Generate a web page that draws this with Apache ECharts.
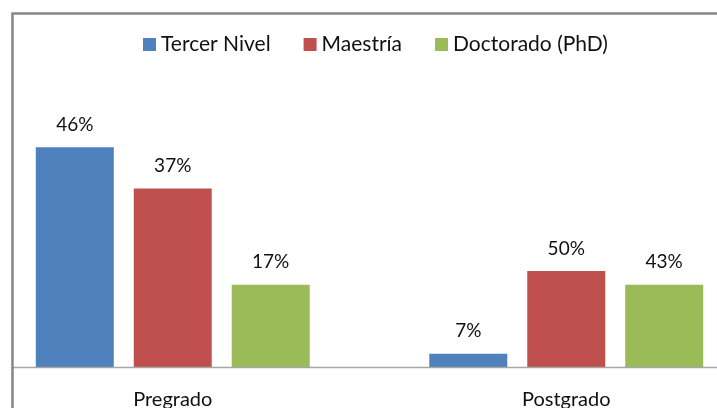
<!DOCTYPE html>
<html>
<head>
<meta charset="utf-8">
<script src="https://cdn.jsdelivr.net/npm/echarts@6/dist/echarts.min.js"></script>
<style>
  html, body { margin: 0; padding: 0; background: #fff; }
  #chart { width: 717px; height: 408px; }
</style>
</head>
<body>
<div id="chart"></div>
<script>
// categorias del eje X
var categorias = ['Pregrado', 'Postgrado'];
// nombres de las series
var series_nombres = ['Tercer Nivel', 'Maestría', 'Doctorado (PhD)'];
// alturas de las barras (conteos)
var tercer_nivel = [16, 1];
var maestria = [13, 7];
var doctorado = [6, 6];
// etiquetas que se muestran encima de cada barra
var tercer_nivel_pct = ['46%', '7%'];
var maestria_pct = ['37%', '50%'];
var doctorado_pct = ['17%', '43%'];

var colores = ['#4F81BD', '#C0504D', '#9BBB59'];
var fuente = 'Lato, "Open Sans", sans-serif';

function serie(nombre, datos, etiquetas, color) {
    return {
        name: nombre,
        type: 'bar',
        data: datos,
        barWidth: 78,
        barGap: '25.6%',
        itemStyle: { color: color },
        label: {
            show: true,
            position: 'top',
            distance: 13,
            fontFamily: fuente,
            fontSize: 19,
            color: '#111',
            formatter: function(p) {
                return etiquetas[p.dataIndex];
            }
        }
    };
}

var myChart = echarts.init(document.getElementById('chart'));
var option = {
    animation: false,
    backgroundColor: '#fff',
    legend: {
        top: 29,
        left: 138,
        itemWidth: 13,
        itemHeight: 13,
        itemGap: 33,
        icon: 'rect',
        textStyle: { fontFamily: fuente, fontSize: 21, color: '#111' },
        data: series_nombres
    },
    grid: {
        outerBoundsMode: 'none',
        containLabel: false,
        left: -24,
        width: 787,
        top: 119.6,
        bottom: 40.5
    },
    xAxis: {
        type: 'category',
        data: categorias,
        axisLine: { show: false },
        axisTick: { show: false },
        axisLabel: {
            margin: 22,
            fontFamily: fuente,
            fontSize: 20,
            color: '#111'
        }
    },
    yAxis: {
        type: 'value',
        min: 0,
        max: 18,
        show: false
    },
    graphic: [
        {
            type: 'line',
            shape: { x1: 13, y1: 367.5, x2: 717, y2: 367.5 },
            style: { stroke: '#a6a6a6', lineWidth: 1.5 },
            z: 10
        },
        {
            type: 'rect',
            shape: { x: 12.5, y: 13.5, width: 800, height: 500 },
            style: { fill: 'none', stroke: '#868686', lineWidth: 2.5 },
            z: 10
        }
    ],
    series: [
        serie(series_nombres[0], tercer_nivel, tercer_nivel_pct, colores[0]),
        serie(series_nombres[1], maestria, maestria_pct, colores[1]),
        serie(series_nombres[2], doctorado, doctorado_pct, colores[2])
    ]
};
myChart.setOption(option);
</script>
</body>
</html>
